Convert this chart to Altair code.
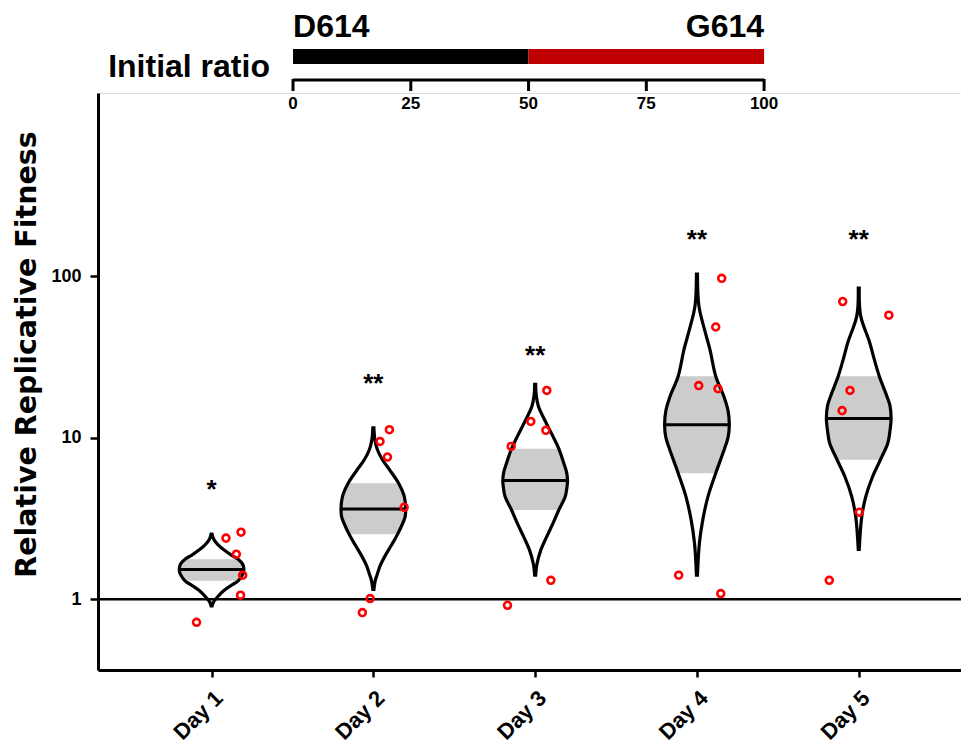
import altair as alt
import pandas as pd

# ---------------- data ----------------
days = [1, 2, 3, 4, 5]

# violin profiles: y levels (fitness) and relative half-widths (0..1)
d1_levels = [2.53, 2.33, 2.165, 2.015, 1.876, 1.77, 1.65, 1.53, 1.41, 1.30, 1.22, 1.137, 1.033, 0.962, 0.909]
d1_widths = [0.015, 0.076, 0.21, 0.39, 0.61, 0.82, 0.96, 1.0, 0.95, 0.82, 0.61, 0.39, 0.18, 0.06, 0.015]
d2_levels = [11.49, 9.72, 8.42, 7.30, 6.33, 5.23, 4.43, 4.00, 3.62, 3.28, 3.10, 2.53, 2.165, 1.876, 1.63, 1.41, 1.31, 1.149]
d2_widths = [0.016, 0.047, 0.125, 0.28, 0.5, 0.78, 0.94, 0.985, 1.0, 0.985, 0.95, 0.75, 0.56, 0.375, 0.22, 0.11, 0.06, 0.016]
d3_levels = [21.34, 18.50, 15.65, 12.40, 10.19, 8.55, 7.00, 6.06, 5.43, 4.89, 4.32, 3.57, 2.95, 2.44, 2.015, 1.67, 1.41]
d3_widths = [0.015, 0.03, 0.10, 0.335, 0.55, 0.73, 0.88, 0.975, 1.0, 0.98, 0.93, 0.73, 0.55, 0.357, 0.174, 0.06, 0.015]
d4_levels = [102.9, 65.4, 46.9, 35.2, 24.0, 18.05, 14.72, 12.04, 10.0, 8.42, 6.03, 4.32, 3.10, 2.23, 1.41]
d4_widths = [0.015, 0.06, 0.23, 0.40, 0.58, 0.83, 0.96, 1.0, 0.96, 0.84, 0.58, 0.34, 0.18, 0.076, 0.015]
d5_levels = [84.2, 56.7, 38.7, 30.5, 24.0, 18.05, 15.80, 13.12, 11.05, 9.27, 7.30, 5.75, 4.32, 3.24, 2.035]
d5_widths = [0.015, 0.06, 0.34, 0.48, 0.635, 0.87, 0.965, 1.0, 0.965, 0.9, 0.67, 0.43, 0.217, 0.093, 0.015]

q1_values = [1.30, 2.53, 3.57, 6.03, 7.30]
median_values = [1.53, 3.62, 5.43, 12.04, 13.12]
q3_values = [1.77, 5.23, 8.55, 24.0, 24.0]

# replicate measurements (value, horizontal jitter in day units)
d1_points = [2.39, 2.60, 1.90, 1.41, 1.06, 0.72]
d1_jitter = [0.089, 0.182, 0.153, 0.192, 0.179, -0.093]
d2_points = [11.2, 9.48, 7.59, 3.71, 1.01, 0.827]
d2_jitter = [0.099, 0.041, 0.087, 0.190, -0.020, -0.068]
d3_points = [19.6, 12.6, 11.1, 8.83, 1.31, 0.918]
d3_jitter = [0.072, -0.027, 0.066, -0.148, 0.097, -0.171]
d4_points = [96.8, 48.4, 21.0, 20.1, 1.41, 1.085]
d4_jitter = [0.153, 0.116, 0.011, 0.130, -0.113, 0.147]
d5_points = [69.6, 57.3, 19.6, 14.7, 3.46, 1.31]
d5_jitter = [-0.099, 0.186, -0.054, -0.103, 0.004, -0.182]

sig_labels = ["*", "**", "**", "**", "**"]
sig_values = [5.35, 24.0, 36.1, 188.0, 188.0]

ratio_segments = ["D614", "G614"]
ratio_start = [0, 50]
ratio_end = [50, 100]
ratio_ticks = [0, 25, 50, 75, 100]

y_ticks = [1, 10, 100]

# ---------------- tables ----------------
levels = [d1_levels, d2_levels, d3_levels, d4_levels, d5_levels]
widths = [d1_widths, d2_widths, d3_widths, d4_widths, d5_widths]
points = [d1_points, d2_points, d3_points, d4_points, d5_points]
jitters = [d1_jitter, d2_jitter, d3_jitter, d4_jitter, d5_jitter]

vrows, mrows, prows = [], [], []
for i, d in enumerate(days):
    for v, w in zip(levels[i], widths[i]):
        vrows.append({"day": d, "value": v, "w": w,
                      "band": bool(q1_values[i] - 1e-9 <= v <= q3_values[i] + 1e-9)})
        if abs(v - median_values[i]) < 1e-9:
            mrows.append({"day": d, "value": v, "w": w})
    for v, j in zip(points[i], jitters[i]):
        prows.append({"day": d, "value": v, "jit": j})
violin_df = pd.DataFrame(vrows)
median_df = pd.DataFrame(mrows)
points_df = pd.DataFrame(prows)
sig_df = pd.DataFrame({"day": days, "value": sig_values, "label": sig_labels})
seg_df = pd.DataFrame({"seg": ratio_segments, "start": ratio_start, "end": ratio_end})
tick_df = pd.DataFrame({"t": ratio_ticks})

HALF = 0.2  # maximum half-width of a violin, in day units
FONT = "Liberation Sans"
CURVE = "catmull-rom"

# ---------------- main panel ----------------
xs = alt.Scale(domain=[0.298, 5.632], nice=False, zero=False)
ys = alt.Scale(type="log", domain=[0.365, 1358], nice=False)
xaxis = alt.Axis(values=days, labelExpr="'Day ' + datum.value", labelAngle=315,
                 labelAlign="right", labelBaseline="top", labelFontSize=22,
                 labelFontWeight="bold", labelPadding=10, tickSize=7, tickWidth=2.5,
                 tickColor="black", domainColor="black", domainWidth=3, grid=False,
                 title=None, labelColor="black", labelFont=FONT)
yaxis = alt.Axis(values=y_ticks, format="d", labelFontSize=18, labelFontWeight="bold",
                 labelPadding=9, tickSize=8, tickWidth=2.5, tickColor="black",
                 domainColor="black", domainWidth=3, grid=False, labelColor="black",
                 labelFont=FONT, title="Relative Replicative Fitness", titleFontSize=28.5,
                 titleFontWeight="bold", titleFont="DejaVu Sans", titleColor="black",
                 titleX=-63, titleY=261, titleBaseline="alphabetic", titleAngle=270)

X = lambda f: alt.X(f, type="quantitative", scale=xs, axis=xaxis)
Y = lambda f: alt.Y(f, type="quantitative", scale=ys, axis=yaxis)

one_line = alt.Chart(pd.DataFrame({"v": [1]})).mark_rule(color="black", strokeWidth=2.5).encode(
    y=Y("v"))

vbase = alt.Chart(violin_df).transform_calculate(
    xl=f"datum.day - {HALF} * datum.w", xr=f"datum.day + {HALF} * datum.w")

band = vbase.transform_filter("datum.band").mark_area(
    orient="horizontal", interpolate=CURVE, color="#cccccc").encode(
    y=Y("value"), x=X("xl"), x2="xr", detail="day:N")

outline = vbase.mark_area(
    orient="horizontal", interpolate=CURVE, fillOpacity=0,
    stroke="black", strokeWidth=3.2).encode(
    y=Y("value"), x=X("xl"), x2="xr", detail="day:N")

med = alt.Chart(median_df).transform_calculate(
    xl=f"datum.day - {HALF} * datum.w", xr=f"datum.day + {HALF} * datum.w"
).mark_rule(color="black", strokeWidth=3).encode(y=Y("value"), x=X("xl"), x2="xr")

pts = alt.Chart(points_df).transform_calculate(px="datum.day + datum.jit").mark_point(
    shape="circle", filled=False, color="#ff0000", strokeWidth=2.6, size=48, opacity=1).encode(
    x=X("px"), y=Y("value"))

stars = alt.Chart(sig_df).mark_text(fontSize=26, fontWeight="bold", font=FONT, color="black",
                                    baseline="middle", dy=8).encode(
    x=X("day"), y=Y("value"), text="label:N")

main = alt.layer(one_line, band, outline, med, pts, stars)

# ---------------- initial-ratio key (above the plot area) ----------------
rs = alt.Scale(domain=[-41.4, 141.8], nice=False, zero=False)
RX = lambda f: alt.X(f, type="quantitative", scale=rs, axis=None)

bar = alt.Chart(seg_df).mark_bar().encode(
    x=RX("start"), x2="end", y=alt.value(-44), y2=alt.value(-29),
    color=alt.Color("seg:N", scale=alt.Scale(domain=ratio_segments, range=["#000000", "#c00000"]),
                    legend=None))

raxis = alt.Chart(pd.DataFrame({"a": [ratio_ticks[0]], "b": [ratio_ticks[-1]]})).mark_rule(
    color="black", strokeWidth=3).encode(x=RX("a"), x2="b", y=alt.value(-13))
rticks = alt.Chart(tick_df).mark_rule(color="black", strokeWidth=3).encode(
    x=RX("t"), y=alt.value(-14), y2=alt.value(-2))
rlabels = alt.Chart(tick_df).mark_text(font=FONT, fontSize=17, fontWeight="bold",
                                       baseline="middle", color="black").encode(
    x=RX("t"), y=alt.value(11), text=alt.Text("t:Q", format="d"))

dlabel = alt.Chart(seg_df).transform_filter("datum.seg == 'D614'").mark_text(
    font=FONT, fontSize=32, fontWeight="bold", align="left", baseline="alphabetic",
    color="black").encode(x=RX("start"), y=alt.value(-56), text="seg:N")
glabel = alt.Chart(seg_df).transform_filter("datum.seg == 'G614'").mark_text(
    font=FONT, fontSize=32, fontWeight="bold", align="right", baseline="alphabetic",
    color="black").encode(x=RX("end"), y=alt.value(-56), text="seg:N")
ilabel = alt.Chart(pd.DataFrame({"x": [-4.9], "txt": ["Initial ratio"]})).mark_text(
    font=FONT, fontSize=32, fontWeight="bold", align="right", baseline="alphabetic",
    color="black").encode(x=RX("x"), y=alt.value(-16), text="txt:N")

key = alt.layer(bar, raxis, rticks, rlabels, dlabel, glabel, ilabel)

chart = alt.layer(main, key).resolve_scale(x="independent", color="independent").properties(
    width=863, height=577,
    padding={"left": 98, "top": 93, "right": 0, "bottom": 86},
    autosize=alt.AutoSizeParams(type="none"),
).configure_view(strokeWidth=0).configure(font=FONT)

chart.save("out.html", embed_options={"renderer": "svg", "actions": False})
